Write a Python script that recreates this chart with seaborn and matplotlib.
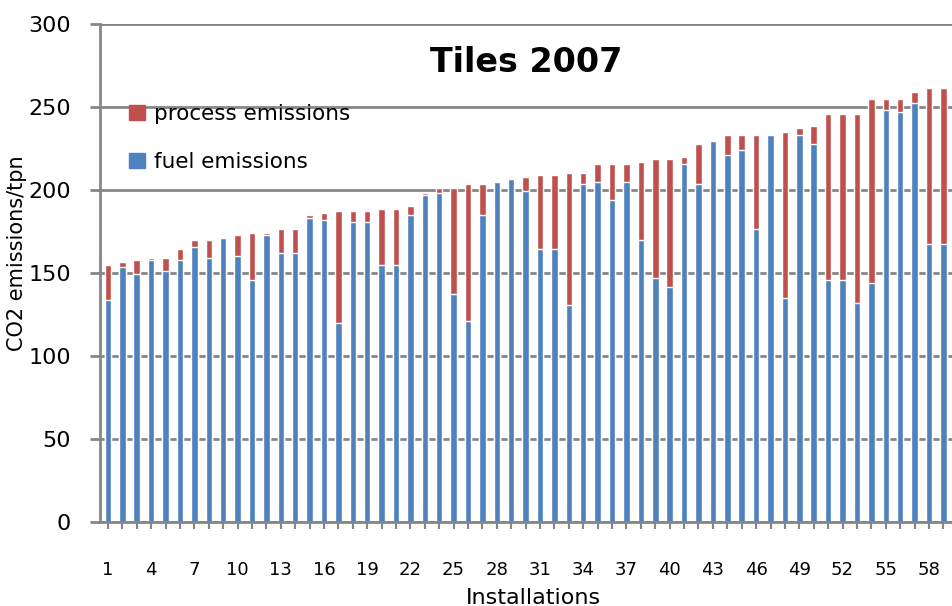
import matplotlib
matplotlib.use('Agg')
import matplotlib.pyplot as plt
from matplotlib.patches import Patch
import seaborn as sns

# Installations 1..59 (chart is cropped on the right)
installations = [str(i) for i in range(1, 60)]

total_emissions = [
    155, 156.6, 157.8, 159, 159, 164.5, 170, 170, 171, 173,
    174, 174, 176.5, 176.5, 185, 186, 187.3, 187.3, 187.3, 188.5,
    188.5, 190.4, 198.2, 201.2, 201.2, 203.6, 203.6, 204.8, 206.6, 207.8,
    209, 209, 210.2, 210.2, 215.7, 215.7, 215.7, 216.9, 218.7, 218.7,
    219.9, 227.7, 229.5, 233.1, 233.1, 233.1, 233.1, 234.9, 237.3, 238.5,
    245.8, 245.8, 245.8, 254.8, 254.8, 254.8, 259, 261.4, 261.4,
]
fuel_emissions = [
    134, 153.4, 149.4, 157.8, 151.2, 157.8, 165.7, 159, 171, 160.2,
    145.8, 173, 162, 162, 183.3, 181.9, 119.9, 180.7, 180.7, 154.8,
    154.8, 185, 197, 198.2, 137.3, 121.1, 185, 204.8, 206.6, 199.4,
    164.5, 164.5, 130.7, 203.6, 204.8, 194, 204.8, 169.9, 147, 141.6,
    215.7, 203.6, 229.5, 221.1, 224.1, 176.5, 233.1, 134.9, 233.1, 227.7,
    145.8, 145.8, 131.9, 144, 248.2, 247, 252.4, 167.6, 167.6,
]

RED = '#C0504D'
BLUE = '#4F81BD'
GRID = '#868686'

sns.set_style('white')
plt.rcParams['font.family'] = ['DejaVu Sans']
plt.rcParams['text.color'] = 'black'
plt.rcParams['axes.labelcolor'] = 'black'

fig = plt.figure(figsize=(9.52, 6.06), dpi=100)
ax = fig.add_axes([100 / 952, 1 - 522 / 606, 852 / 952, 498 / 606])

# red = total (fuel + process), blue = fuel drawn on top
sns.barplot(x=installations, y=total_emissions, order=installations,
            color=RED, saturation=1, width=0.45, ax=ax)
sns.barplot(x=installations, y=fuel_emissions, order=installations,
            color=BLUE, saturation=1, width=0.45, ax=ax)

ax.set_ylim(0, 300)
ax.set_xlim(-0.55, 58.6)
ax.set_yticks(range(0, 301, 50))
ax.set_xticks(range(0, 59, 3))
ax.set_xticklabels(installations[::3])
ax.set_xticks(range(0, 59), minor=True)

ax.set_axisbelow(True)
ax.yaxis.grid(True, color=GRID, lw=2)
ax.xaxis.grid(False)
for side in ['top', 'right']:
    ax.spines[side].set_visible(False)
for side in ['left', 'bottom']:
    ax.spines[side].set_color(GRID)
    ax.spines[side].set_linewidth(2)

ax.tick_params(axis='y', which='major', left=True, length=7, width=2,
               color=GRID, labelcolor='black', labelsize=16, pad=14)
ax.tick_params(axis='x', which='both', bottom=True, length=5, width=1.5,
               color=GRID, labelcolor='black', labelsize=13, pad=23)

ax.set_xlabel('Installations', fontsize=16)
ax.xaxis.set_label_coords(0.509, -0.132)
ax.set_ylabel('CO2 emissions/tpn', fontsize=15)
ax.yaxis.set_label_coords(-0.086, 0.54)

ax.text(0.5, 0.955, 'Tiles 2007', transform=ax.transAxes, ha='center', va='top',
        fontsize=24, fontweight='bold')

handles = [Patch(color=RED, label='process emissions'),
           Patch(color=BLUE, label='fuel emissions')]
ax.legend(handles=handles, loc='upper left', bbox_to_anchor=(0.034, 0.84),
          borderaxespad=0, borderpad=0, frameon=False, fontsize=15.5,
          handlelength=0.75, handleheight=0.7, labelspacing=1.3,
          handletextpad=0.4)

fig.savefig('out.png', dpi=100)
